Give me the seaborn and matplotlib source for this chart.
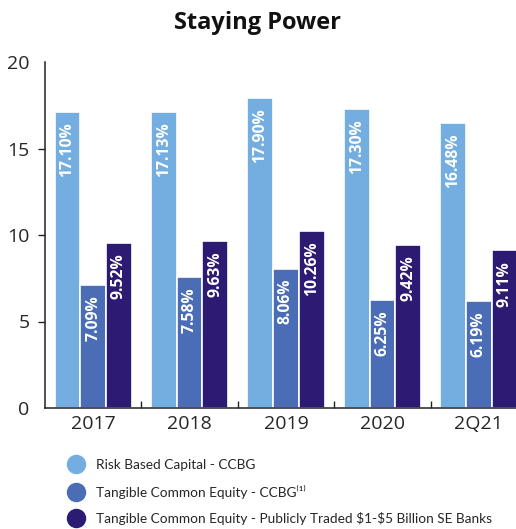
import matplotlib
matplotlib.use("Agg")
import matplotlib.pyplot as plt
from matplotlib.lines import Line2D
from matplotlib.ticker import FixedLocator
import seaborn as sns
import pandas as pd

periods = ["2017", "2018", "2019", "2020", "2Q21"]
series_names = [
    "Risk Based Capital - CCBG",
    "Tangible Common Equity - CCBG\u207d\u00b9\u207e",
    "Tangible Common Equity - Publicly Traded \\$1-\\$5 Billion SE Banks",
]
risk_based_capital = [17.10, 17.13, 17.90, 17.30, 16.48]
tce_ccbg = [7.09, 7.58, 8.06, 6.25, 6.19]
tce_peers = [9.52, 9.63, 10.26, 9.42, 9.11]
y_ticks = [0, 5, 10, 15, 20]

colors = ["#74aee0", "#4a6db5", "#2d1b73"]

rows = []
for values, name in zip([risk_based_capital, tce_ccbg, tce_peers], series_names):
    for p, v in zip(periods, values):
        rows.append({"period": p, "series": name, "value": v})
df = pd.DataFrame(rows)

sns.set_theme(style="white")
plt.rcParams["font.family"] = ["Open Sans", "DejaVu Sans"]

fig = plt.figure(figsize=(5.16, 5.29), dpi=100)
ax = fig.add_axes([45 / 516, 121 / 529, 482 / 516, 346 / 529])

sns.barplot(data=df, x="period", y="value", hue="series", order=periods,
            hue_order=series_names, palette=colors, width=0.8,
            edgecolor="white", linewidth=1.2, saturation=1, ax=ax, legend=False)

# value labels inside the top of each bar
for container in ax.containers:
    for bar in container:
        h = bar.get_height()
        ax.text(bar.get_x() + bar.get_width() / 2, h - 0.6, f"{h:.2f}%",
                rotation=90, ha="center", va="top", color="white",
                fontsize=11.3, fontweight="bold")

ax.set_xlim(-0.5, 4.5)
ax.set_ylim(0, 20)
ax.set_yticks(y_ticks)
ax.set_yticklabels([str(t) for t in y_ticks], fontsize=14)
ax.set_xlabel("")
ax.set_ylabel("")
ax.tick_params(axis="x", which="major", length=0, labelsize=14, pad=5)
ax.tick_params(axis="y", which="major", direction="out", length=5, width=1,
               color="#222222", pad=6, left=True)
ax.yaxis.get_major_ticks()[-1].tick1line.set_visible(False)
ax.yaxis.get_major_ticks()[0].tick1line.set_visible(False)

# inward ticks: top of the y-axis and between period groups
ax.yaxis.set_minor_locator(FixedLocator([20]))
ax.tick_params(axis="y", which="minor", direction="in", length=6, width=1,
               color="#222222", left=True)
ax.xaxis.set_minor_locator(FixedLocator([0.5, 1.5, 2.5, 3.5]))
ax.tick_params(axis="x", which="minor", direction="in", length=5, width=1,
               color="#222222", bottom=True)

for side in ["top", "right"]:
    ax.spines[side].set_visible(False)
for side in ["left", "bottom"]:
    ax.spines[side].set_color("#222222")
    ax.spines[side].set_linewidth(1.1)

fig.text(0.5, 1 - 23 / 529, "Staying Power", ha="center", va="center",
         fontsize=17, fontweight="bold", color="#111111")

handles = [Line2D([0], [0], marker="o", linestyle="", markersize=13,
                  markerfacecolor=c, markeredgecolor=c) for c in colors]
fig.legend(handles, series_names, loc="upper left",
           bbox_to_anchor=(68 / 516, 1 - 459 / 529), frameon=False,
           labelspacing=1.0, handletextpad=0.85,
           handlelength=1.2, borderaxespad=0, borderpad=0,
           prop={"family": ["Lato", "DejaVu Sans"], "size": 9.8})

fig.savefig("out.png", dpi=100)
